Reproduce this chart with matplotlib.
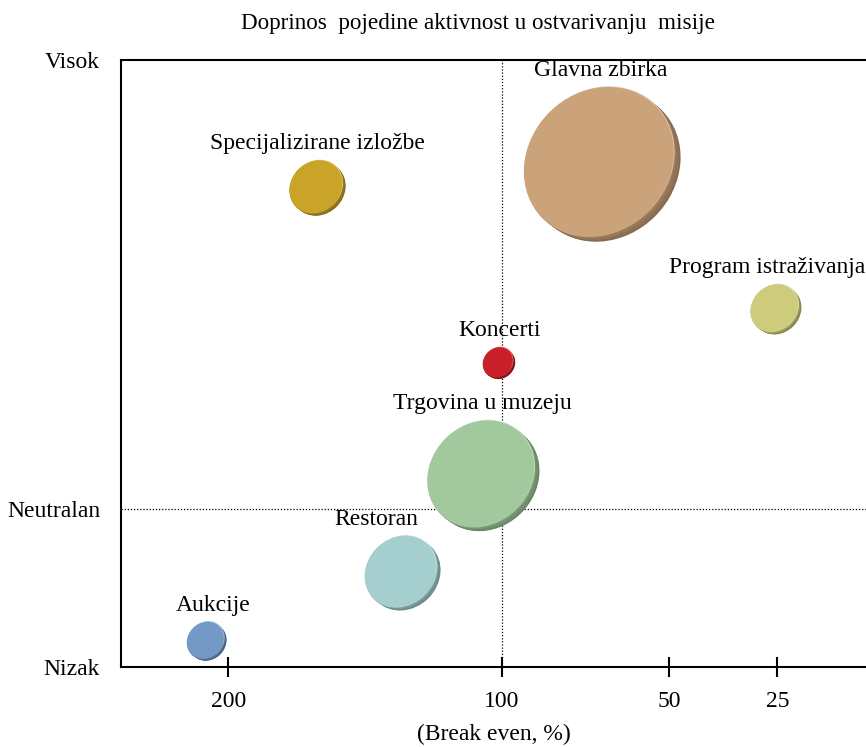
import numpy as np
import matplotlib
matplotlib.use("Agg")
import matplotlib.pyplot as plt
from matplotlib import patches as mpatches
from matplotlib import transforms as mtrans
from matplotlib import colors as mcolors

plt.rcParams['font.family'] = ['Liberation Serif', 'DejaVu Serif']

# podaci
aktivnosti = ["Glavna zbirka", "Specijalizirane izložbe", "Program istraživanja",
              "Koncerti", "Trgovina u muzeju", "Restoran", "Aukcije"]
break_even = [71, 168, 25.7, 101.5, 107.7, 137, 208.4]
doprinos = [83.2, 79.1, 59.1, 50.2, 31.8, 15.7, 4.4]
velicina = [100, 12.5, 10.2, 4.0, 50.9, 23.0, 6.1]
boje = ["#cba37b", "#c9a428", "#cdcc7c", "#c91f28", "#a2c99d", "#a5cfce", "#7399c6"]

x_ticks = [200, 100, 50, 25]
y_ticks = [0, 26, 100]
y_labels = ["Nizak", "Neutralan", "Visok"]

# nelinearna skala x osi (kao u originalu)
skala_x = [0, 25, 50, 100, 200, 300]
skala_p = [-884, -776, -668, -501, -228, 45]


def naprijed(x):
    return np.interp(x, skala_x, skala_p)


def natrag(p):
    return np.interp(p, skala_p, skala_x)


fig = plt.figure(figsize=(8.66, 7.47), dpi=100)
ax = fig.add_axes([121/866, 80/747, 0.862, 607/747])
ax.set_xscale('function', functions=(naprijed, natrag))
ax.set_xlim(239.2, 4.17)
ax.set_ylim(0, 100)

ax.spines['right'].set_visible(False)
for s in ['left', 'top', 'bottom']:
    ax.spines[s].set_linewidth(1.5)

ax.set_xticks(x_ticks)
ax.set_xticklabels([str(t) for t in x_ticks], fontsize=17)
ax.tick_params(axis='x', direction='inout', length=15, width=1.5, pad=10)
ax.set_yticks(y_ticks)
ax.set_yticklabels(y_labels, fontsize=17)
ax.tick_params(axis='y', length=0, pad=15)
ax.set_xlabel("(Break even, %)", fontsize=17, labelpad=8)

ax.axvline(100, color='black', lw=0.9, ls=(0, (1, 1.5)), zorder=1)
ax.axhline(26, color='black', lw=0.9, ls=(0, (1, 1.5)), zorder=1)

fig.text(0.552, 1 - 23/747, "Doprinos  pojedine aktivnost u ostvarivanju  misije",
         ha='center', va='center', fontsize=16.7)

# mjehurici (nagnuti diskovi)
d_max = 150.0  # px
omjer = 0.88
kut = 45
pomak_lab = {"Restoran": -24, "Program istraživanja": -7, "Aukcije": 8}

for ime, x, y, v, c in zip(aktivnosti, break_even, doprinos, velicina, boje):
    d = d_max * np.sqrt(v / 100.0)
    a = d * np.sqrt(2 / (1 + omjer**2))
    b = a * omjer
    tr = fig.dpi_scale_trans + mtrans.ScaledTranslation(x, y, ax.transData)
    rgb = np.array(mcolors.to_rgb(c))
    tamna = rgb * 0.65
    deb = 0.035 * d + 1.5
    n = 8
    for k in range(n, 0, -1):
        f = k / n
        col = tamna * (1 - 0.4 * (1 - f)) + rgb * 0.4 * (1 - f)
        e = mpatches.Ellipse((deb * f / 100, -deb * f * 0.7 / 100), a / 100, b / 100, angle=kut,
                             transform=tr, facecolor=np.clip(col, 0, 1), edgecolor='none', zorder=3)
        ax.add_patch(e)
    svijetla = np.clip(rgb + (1 - rgb) * 0.35, 0, 1)
    ax.add_patch(mpatches.Ellipse((0.8 / 100, 0.6 / 100), a / 100, b / 100, angle=kut, transform=tr,
                                  facecolor=svijetla, edgecolor='none', zorder=3))
    ax.add_patch(mpatches.Ellipse((0, 0), a / 100, b / 100, angle=kut, transform=tr,
                                  facecolor=c, edgecolor='none', zorder=4))
    ax.annotate(ime, (x, y), xytext=(pomak_lab.get(ime, 2) * 0.72, (d / 2 + 6) * 0.72),
                textcoords='offset points', ha='center', va='bottom', fontsize=17, zorder=5)

fig.savefig("out.png", dpi=100)
